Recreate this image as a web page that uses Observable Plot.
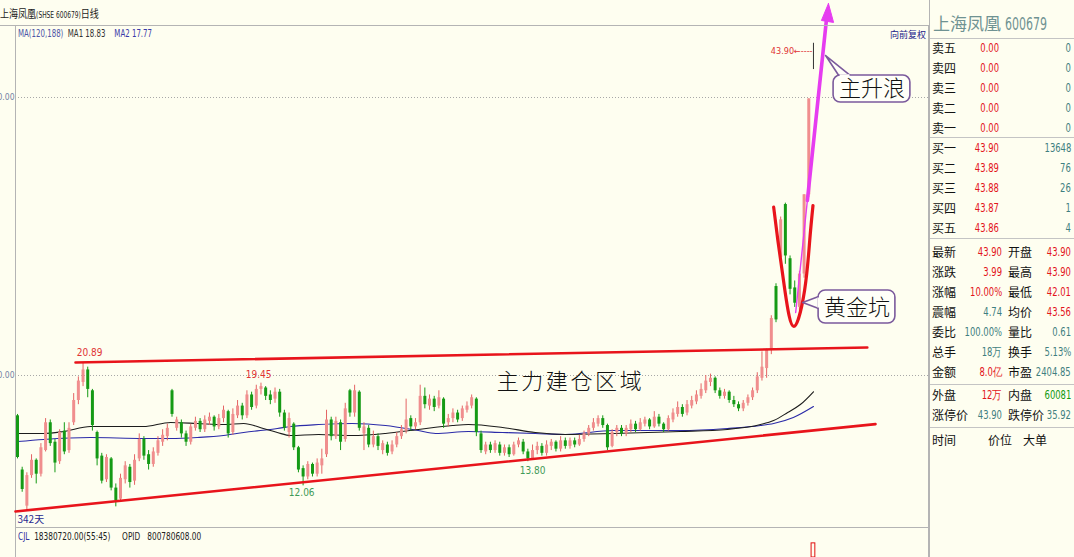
<!DOCTYPE html>
<html><head><meta charset="utf-8">
<script src="https://cdn.jsdelivr.net/npm/d3@7"></script>
<script src="https://cdn.jsdelivr.net/npm/@observablehq/plot@0.6"></script>
<style>
html,body{margin:0;padding:0;background:#fefef0;width:1074px;height:557px;overflow:hidden;font-family:"Noto Sans CJK SC",sans-serif;}
#wrap{position:relative;width:1074px;height:557px;}
.abs{position:absolute;white-space:nowrap;line-height:16px;}
.nar{font-family:"DejaVu Sans Condensed","Liberation Sans",sans-serif;}
.sx{display:inline-block;}
.hl{position:absolute;height:1px;background:#c4c4c4;}
</style></head><body><div id="wrap"></div>
<script>
// ---------- candle data (each candle = 2 trading days) ----------
const open = [
17.1,13.2,10.6,12.8,13.9,12.9,14.6,16.6,15.2,13.8,
16.0,14.6,16.6,18.2,19.5,20.4,18.9,15.9,14.2,12.5,
14.0,11.9,11.1,12.5,13.4,12.4,14.0,15.4,14.3,13.6,
14.4,15.2,15.6,18.9,16.2,16.6,15.8,15.2,16.2,16.7,
16.1,16.7,17.0,16.3,16.9,17.4,15.9,17.1,17.8,17.1,
18.6,17.8,19.0,19.1,18.6,18.3,18.8,17.3,15.9,16.5,
14.8,13.3,12.7,13.6,12.9,13.5,14.3,16.8,15.6,16.6,
15.4,18.9,17.3,18.8,15.8,16.2,15.0,15.6,14.6,15.0,
14.5,15.0,15.6,16.0,16.9,16.3,16.6,18.5,17.8,18.3,
17.8,18.3,16.6,16.9,17.3,16.9,17.5,17.8,18.3,15.8,
14.5,15.0,14.6,15.0,14.4,14.8,14.3,15.0,15.2,14.5,
14.0,14.6,14.9,14.4,14.9,15.2,14.7,15.3,14.9,15.3,
15.0,15.4,15.8,16.2,16.5,16.9,16.4,14.9,15.9,16.2,
15.8,16.1,16.5,16.1,16.5,16.8,16.3,17.0,16.5,16.1,
16.8,17.2,17.7,17.3,17.8,18.1,18.5,18.9,19.5,19.8,
18.9,18.5,18.8,18.2,17.9,17.6,18.0,18.4,18.9,19.8,
20.5,21.8,26.4,28.5,32.3,28.4,26.3,24.9,27.3,33.0,43.9];
const close = [
14.1,11.8,12.8,13.9,12.9,14.8,16.6,15.1,13.7,15.9,
14.5,16.2,18.2,19.6,20.4,19.0,16.4,14.0,12.4,14.1,
11.9,11.0,12.6,13.5,12.3,13.9,15.4,14.2,13.6,14.5,
15.3,15.7,16.2,17.2,16.8,15.8,15.2,16.3,16.7,16.1,
16.8,17.0,16.3,16.9,17.5,15.8,17.2,17.8,17.1,18.6,
17.7,19.0,19.2,18.5,18.2,18.8,17.3,16.2,16.9,14.8,
13.2,12.7,13.6,12.9,13.7,14.0,16.8,15.6,16.7,15.2,
17.6,17.3,18.9,16.2,16.3,15.0,15.6,14.9,15.1,14.4,
15.0,15.6,16.1,16.8,16.3,16.6,18.5,17.9,18.3,17.7,
18.4,16.5,16.9,17.3,16.8,17.6,17.8,18.4,15.9,14.6,
15.0,14.6,15.1,14.4,14.8,14.3,15.0,15.3,14.5,14.0,
14.6,14.9,14.4,15.0,15.2,14.7,15.3,14.9,15.3,15.0,
15.4,15.8,16.2,16.6,16.9,16.4,14.8,15.9,16.2,15.8,
16.2,16.5,16.1,16.6,16.8,16.3,17.0,16.5,16.1,16.9,
17.3,17.7,17.2,17.9,18.2,18.6,19.0,19.6,19.8,18.9,
18.5,18.8,18.2,17.9,17.6,18.0,18.4,18.9,19.9,20.6,
21.8,24.1,24.0,31.2,28.6,26.2,25.2,27.3,33.0,39.9,43.9];
const high = [
17.2,13.4,13.0,14.3,14.0,15.1,16.9,16.8,15.4,16.1,
16.6,16.6,18.7,19.9,20.89,20.6,19.0,16.0,14.4,14.3,
14.1,12.2,12.9,13.8,13.6,14.3,15.8,15.6,14.6,14.8,
15.6,16.1,16.5,19.0,17.0,16.8,16.0,16.5,17.0,16.9,
17.1,17.3,17.1,17.2,17.8,17.5,17.6,18.2,18.0,18.9,
18.8,19.3,19.45,19.2,18.9,19.1,19.0,17.5,17.3,16.6,
14.9,13.5,13.8,13.7,14.0,14.7,17.5,17.0,17.0,16.8,
18.0,19.0,19.3,18.9,16.6,16.4,16.0,15.8,15.3,15.2,
15.3,15.9,16.4,18.3,17.1,16.9,19.3,19.1,18.6,18.5,
18.9,18.4,17.2,17.6,17.5,17.8,18.1,18.6,18.4,16.0,
15.2,15.2,15.3,15.2,15.0,15.0,15.2,15.5,15.4,14.7,
15.0,15.2,15.1,15.3,15.4,15.3,15.6,15.5,15.5,15.5,
15.7,16.0,16.4,16.9,17.1,17.1,16.5,16.1,16.4,16.4,
16.4,16.8,16.7,16.9,17.0,16.9,17.4,17.2,16.6,17.1,
17.6,18.1,17.9,18.2,18.5,18.9,19.4,20.0,20.1,19.9,
19.1,19.0,18.9,18.5,18.1,18.2,18.6,19.1,20.2,21.7,
21.9,24.3,26.6,31.4,32.4,28.6,26.8,27.5,33.0,39.9,43.9];
const low = [
14.0,11.6,10.3,12.6,12.2,12.7,14.5,14.9,13.0,13.6,
14.3,14.4,16.4,17.9,19.2,18.4,16.0,13.5,12.2,12.3,
11.7,10.55,11.0,12.2,11.9,12.1,13.8,13.9,13.2,13.4,
14.2,14.9,15.3,17.0,16.0,15.5,14.9,15.0,16.0,15.9,
15.9,16.4,16.0,16.1,16.6,15.5,15.7,16.9,16.8,16.9,
17.5,17.6,18.6,18.2,17.9,18.0,17.0,16.0,15.5,14.6,
13.0,12.06,12.5,12.7,12.7,12.9,14.1,15.3,15.4,14.6,
15.2,17.0,17.0,16.0,14.6,14.8,14.8,14.6,14.3,14.2,
14.3,14.8,15.4,15.8,16.0,16.1,16.4,17.6,17.5,17.4,
17.6,16.2,16.3,16.6,16.6,16.7,17.3,17.6,15.6,14.4,
14.3,14.4,14.4,14.2,14.2,14.1,14.2,14.8,14.3,13.8,
13.9,14.3,14.2,14.2,14.6,14.5,14.5,14.7,14.7,14.8,
14.9,15.2,15.6,16.0,16.3,16.2,14.6,14.8,15.6,15.6,
15.6,15.9,15.9,16.0,16.3,16.1,16.2,16.3,15.9,16.0,
16.6,17.0,17.0,17.1,17.6,17.9,18.3,18.7,19.2,18.7,
18.3,18.3,18.0,17.7,17.4,17.4,17.8,18.2,18.7,19.6,
19.8,21.5,23.8,28.3,28.0,25.8,24.9,24.6,27.0,32.8,42.01];

// moving averages (candle index, price)
const ma1Idx = [0,5.55,9.8,15.6,21.4,26.9,32.7,38.4,44,48.3,52.5,55.5,58.3,64.3,71.5,78.6,85.6,92.9,96.3,103.6,110.6,117,127.3,134.6,141.6,151.6,158.7,161.5,164.5,167.2,170];
const ma1 = [15.83,15.83,15.97,16.33,16.33,16.33,16.62,16.55,16.47,16.55,16.19,15.9,15.68,15.76,15.68,15.83,16.12,16.4,16.47,16.26,15.9,15.76,15.83,15.9,15.97,16.12,16.47,16.76,17.34,17.91,18.83];
const ma2Idx = [0,5.55,15.6,26.9,32.7,38.4,44,48.3,55.5,58.3,64.3,71.5,78.6,85.6,89.3,96.3,103.6,110.6,117,127.3,141.6,151.6,158.7,161.5,165.7,170];
const ma2 = [15.25,15.4,15.54,15.47,15.47,15.54,15.68,15.9,16.19,16.33,16.47,16.55,16.4,16.04,15.83,15.97,15.9,15.83,15.76,16.04,16.04,16.19,16.4,16.55,16.98,17.77];

// volume sub-panel (CJL)
const volIdx = [170];
const volVal = [18380720];

// axis ticks
const yTicks = [40, 20];

// annotations (data units: candle index, price)
const resX = [12.39, 181.5], resY = [20.94, 22.01];
const supX = [-0.43, 183.25], supY = [10.22, 16.5];
const pitX = [161.5,162.4,163.9,165.8,168.1,169.2,169.9];
const pitY = [32.11,29.71,26.12,23.53,26.12,29.71,32.23];
const arrowThinX = [166.2, 168.7], arrowThinY = [24.53, 32.59];
const arrowThickX = [168.7, 172.8], arrowThickY = [32.59, 45.68];
const arrowHeadX = [173.2, 171.7, 174.3], arrowHeadY = [46.76, 45.54, 45.40];
const calloutLabels = ["主升浪", "黄金坑"];
const calloutX1 = [174.3, 171.1], calloutX2 = [190.7, 187.5];
const calloutY1 = [39.64, 23.74], calloutY2 = [41.58, 26.12];
const calloutTextX = [182.5, 179.3], calloutTextY = [40.58, 24.89];
const tailTipX = [172.6, 167.7], tailTipY = [43.02, 25.25];
const tailB1X = [175.4, 171.1], tailB1Y = [41.58, 25.68];
const tailB2X = [177.9, 171.1], tailB2Y = [41.58, 24.82];
const zoneLabel = "主力建仓区域", zoneX = 118.1, zoneY = 19.57;
const markText = ["20.89","19.45","12.06","13.80"];
const markX = [15.4, 51.5, 60.7, 110];
const markY = [21.65, 20.07, 11.58, 13.17];
const markKind = ["hi","hi","lo","lo"];
const lastLabel = "43.90←----", lastX = 169.8, lastY = 43.31;

// right panel data
const askLabels = ["卖五","卖四","卖三","卖二","卖一"];
const askPrices = ["0.00","0.00","0.00","0.00","0.00"];
const askVols = ["0","0","0","0","0"];
const bidLabels = ["买一","买二","买三","买四","买五"];
const bidPrices = ["43.90","43.89","43.88","43.87","43.86"];
const bidVols = ["13648","76","26","1","4"];
const statL1 = ["最新","涨跌","涨幅","震幅","委比","总手","金额"];
const statV1 = ["43.90","3.99","10.00%","4.74","100.00%","18万","8.0亿"];
const statC1 = ["r","r","r","t","t","t","r"];
const statL2 = ["开盘","最高","最低","均价","量比","换手","市盈"];
const statV2 = ["43.90","43.90","42.01","43.56","0.61","5.13%","2404.85"];
const statC2 = ["r","r","r","r","t","t","t"];
const extL1 = ["外盘","涨停价"], extV1 = ["12万","43.90"], extC1 = ["r","t"];
const extL2 = ["内盘","跌停价"], extV2 = ["60081","35.92"], extC2 = ["g","t"];
const footLabels = ["时间","价位","大单"];

// ---------- drawing ----------
const wrap = document.getElementById("wrap");
const xDomain = [-0.427, 194.57];
const yDomain = [9.065, 45.18];
const UP_BODY = "#f08e8e", UP_WICK = "#e46464", DOWN = "#159a15", FLAT = "#333";
const RED = "#e8141b", CALL = "#7b5a9c", MAG = "#e63cf0", BOXFILL = "#fffff8";

const candles = open.map((o, i) => ({i, o, c: close[i], h: high[i], l: low[i]}));
const col = d => d.c > d.o ? UP_BODY : d.c < d.o ? DOWN : FLAT;
const wcol = d => d.c > d.o ? UP_WICK : d.c < d.o ? DOWN : FLAT;
const pts = (xs, ys) => xs.map((x, k) => ({x, y: ys[k]}));
const cjk = "Noto Sans CJK SC, sans-serif";
const cond = "DejaVu Sans Condensed, DejaVu Sans, sans-serif";

const callouts = calloutLabels.map((t, k) => ({
  t, x1: calloutX1[k], x2: calloutX2[k], y1: calloutY1[k], y2: calloutY2[k],
  tx: calloutTextX[k], ty: calloutTextY[k]
}));
const tailMarks = calloutLabels.map((t, k) => {
  const poly = pts([tailTipX[k], tailB1X[k], tailB2X[k], tailTipX[k]], [tailTipY[k], tailB1Y[k], tailB2Y[k], tailTipY[k]]);
  return Plot.line(poly, {x: "x", y: "y", fill: BOXFILL, stroke: CALL, strokeWidth: 1.6, curve: "linear"});
});
const coverMarks = calloutLabels.map((t, k) => Plot.link([0], {
  x1: () => tailB1X[k] + (tailB2X[k] - tailB1X[k]) * 0.08,
  x2: () => tailB1X[k] + (tailB2X[k] - tailB1X[k]) * 0.92,
  y1: () => tailB1Y[k] + (tailB2Y[k] - tailB1Y[k]) * 0.08,
  y2: () => tailB1Y[k] + (tailB2Y[k] - tailB1Y[k]) * 0.92,
  stroke: BOXFILL, strokeWidth: 2.6
}));

const marks = pts(markX, markY).map((p, k) => ({...p, t: markText[k], kind: markKind[k]}));

const main = Plot.plot({
  width: 1074, height: 527,
  marginTop: 25, marginBottom: 0, marginLeft: 15, marginRight: 146,
  x: {domain: xDomain, axis: null},
  y: {domain: yDomain, axis: null},
  style: {background: "transparent", overflow: "visible"},
  marks: [
    Plot.ruleY(yTicks, {stroke: "#a8a8a8", strokeDasharray: "1,2"}),
    Plot.frame({stroke: "#b4b4b4"}),
    Plot.text(yTicks, {y: d => d, frameAnchor: "left", text: d => d.toFixed(2), textAnchor: "end", dx: -1, fontSize: 8.5, fill: "#7482a4", fontFamily: cond}),
    // moving averages
    Plot.line(pts(ma2Idx, ma2), {x: "x", y: "y", stroke: "#2b2ba8", strokeWidth: 1.1, curve: "monotone-x"}),
    Plot.line(pts(ma1Idx, ma1), {x: "x", y: "y", stroke: "#1c1c1c", strokeWidth: 1.1, curve: "monotone-x"}),
    // candles
    Plot.ruleX(candles, {x: "i", y1: "l", y2: "h", stroke: wcol, strokeWidth: 1}),
    Plot.ruleX(candles, {x: "i", y1: "o", y2: "c", stroke: col, strokeWidth: 3}),
    // trend lines
    Plot.line(pts(resX, resY), {x: "x", y: "y", stroke: RED, strokeWidth: 2.6}),
    Plot.line(pts(supX, supY), {x: "x", y: "y", stroke: RED, strokeWidth: 2.6}),
    // golden pit
    Plot.line(pts(pitX, pitY), {x: "x", y: "y", stroke: RED, strokeWidth: 3.2, curve: "natural"}),
    // magenta arrow
    Plot.line(pts(arrowThinX, arrowThinY), {x: "x", y: "y", stroke: MAG, strokeWidth: 1.4}),
    Plot.line(pts(arrowThickX, arrowThickY), {x: "x", y: "y", stroke: MAG, strokeWidth: 3.6}),
    Plot.line(pts([...arrowHeadX, arrowHeadX[0]], [...arrowHeadY, arrowHeadY[0]]), {x: "x", y: "y", fill: MAG, stroke: MAG, strokeWidth: 1}),
    // callouts
    ...tailMarks,
    Plot.rect(callouts, {x1: "x1", x2: "x2", y1: "y1", y2: "y2", fill: BOXFILL, stroke: CALL, strokeWidth: 1.6, rx: 7}),
    ...coverMarks,
    Plot.text(callouts, {x: "tx", y: "ty", text: "t", fontSize: 22, fill: "#111", fontFamily: cjk, fontWeight: 300}),
    Plot.text([zoneLabel], {x: () => zoneX, y: () => zoneY, text: d => d, fontSize: 22, fill: "#111", fontFamily: cjk, fontWeight: 300}),
    // price labels
    Plot.text(marks, {x: "x", y: "y", text: "t", fontSize: 10, fill: d => d.kind === "hi" ? "#e03434" : "#3f9a56", fontFamily: cond}),
    Plot.text([lastLabel], {x: () => lastX, y: () => lastY, text: d => d, textAnchor: "end", fontSize: 9, fill: "#e03434", fontFamily: cond}),
    Plot.text(["342天"], {frameAnchor: "bottom-left", text: d => d, dx: 2, dy: -5, fontSize: 10, fill: "#2a2a90", fontFamily: cjk})
  ]
});
main.style.position = "absolute"; main.style.left = "0px"; main.style.top = "0px";
d3.select(main).selectAll("text").filter(function() { return this.textContent === zoneLabel; })
  .attr("letter-spacing", "2.6px");
wrap.appendChild(main);

const vol = Plot.plot({
  width: 1074, height: 30,
  marginTop: 0, marginBottom: 0, marginLeft: 15, marginRight: 146,
  x: {domain: xDomain, axis: null},
  y: {domain: [0, 39000000], axis: null},
  style: {background: "transparent", overflow: "visible"},
  marks: [
    Plot.ruleX(xDomain, {stroke: "#b4b4b4"}),
    Plot.rectY(volIdx.map((i, k) => ({i, v: volVal[k]})), {x1: d => d.i - 0.4, x2: d => d.i + 0.4, y: "v", fill: "none", stroke: "#e01010", strokeWidth: 1})
  ]
});
vol.style.position = "absolute"; vol.style.left = "0px"; vol.style.top = "527px";
wrap.appendChild(vol);

// ---------- HTML text ----------
function put(html, left, yc, opts = {}) {
  const d = document.createElement("div");
  d.className = "abs " + (opts.cls || "");
  const right = opts.right != null;
  if (opts.sx) {
    d.innerHTML = `<span class="sx" style="transform:scaleX(${opts.sx});transform-origin:${right ? "right" : "left"} center">${html}</span>`;
  } else d.innerHTML = html;
  d.style.top = (yc - 8) + "px";
  if (right) d.style.right = (1074 - opts.right) + "px"; else d.style.left = left + "px";
  d.style.fontSize = (opts.size || 12) + "px";
  d.style.color = opts.color || "#111";
  if (opts.lh) d.style.lineHeight = opts.lh;
  wrap.appendChild(d);
  return d;
}
function hline(left, top, width, color) {
  const d = document.createElement("div");
  d.className = "hl"; d.style.left = left + "px"; d.style.top = top + "px"; d.style.width = width + "px";
  if (color) d.style.background = color;
  wrap.appendChild(d);
}
// header
put('上海凤凰<span class="nar" style="font-size:8px">(SHSE 600679)</span>日线', 0, 13, {size: 11, color: "#222", sx: 0.82});
hline(0, 25, 929, "#b4b4b4");
put('<span style="color:#4c55a6">MA(120,188)</span>&nbsp; <span style="color:#333">MA1 18.83</span>&nbsp;&nbsp;&nbsp; <span style="color:#3a3aa8">MA2 17.77</span>', 18, 34, {size: 10, cls: "nar", sx: 0.78});
put('向前复权', 0, 35, {size: 9, color: "#20208a", right: 926});
put('<span style="color:#3030a0">CJL</span>&nbsp; 18380720.00(55:45)&nbsp;&nbsp;&nbsp;&nbsp; OPID&nbsp;&nbsp; 800780608.00', 18, 537, {size: 10, cls: "nar", color: "#222", sx: 0.82});

// right panel
const vl = document.createElement("div");
vl.style.cssText = "position:absolute;left:929px;top:0;width:1px;height:557px;background:#b4b4b4";
wrap.appendChild(vl);
put('上海凤凰&nbsp;<span class="nar sx" style="transform:scaleX(0.72);transform-origin:left center">600679</span>', 933, 22, {size: 17, color: "#6f9292", lh: "18px"});
hline(930, 38, 144); hline(930, 137, 144); hline(930, 238, 144); hline(930, 384, 144); hline(930, 427, 144);
const C = {r: "#e3141b", t: "#3f7f80", g: "#119a11"};
const NS = 0.78;
askLabels.forEach((l, k) => {
  const y = 48 + k * 20;
  put(l, 932, y);
  put(askPrices[k], 0, y, {right: 999, color: C.r, cls: "nar", sx: NS});
  put(askVols[k], 0, y, {right: 1071, color: C.t, cls: "nar", sx: NS});
});
bidLabels.forEach((l, k) => {
  const y = 148 + k * 20;
  put(l, 932, y);
  put(bidPrices[k], 0, y, {right: 999, color: C.r, cls: "nar", sx: NS});
  put(bidVols[k], 0, y, {right: 1071, color: C.t, cls: "nar", sx: NS});
});
statL1.forEach((l, k) => {
  const y = 252 + k * 20;
  put(l, 932, y);
  put(statV1[k], 0, y, {right: 1002, color: C[statC1[k]], cls: "nar", sx: NS});
  put(statL2[k], 1008, y);
  put(statV2[k], 0, y, {right: 1071, color: C[statC2[k]], cls: "nar", sx: NS});
});
extL1.forEach((l, k) => {
  const y = 395 + k * 20;
  put(l, 932, y);
  put(extV1[k], 0, y, {right: 1002, color: C[extC1[k]], cls: "nar", sx: NS});
  put(extL2[k], 1008, y);
  put(extV2[k], 0, y, {right: 1071, color: C[extC2[k]], cls: "nar", sx: NS});
});
put(footLabels[0], 932, 440);
put(footLabels[1], 988, 440);
put(footLabels[2], 1023, 440);
</script>
</body></html>
